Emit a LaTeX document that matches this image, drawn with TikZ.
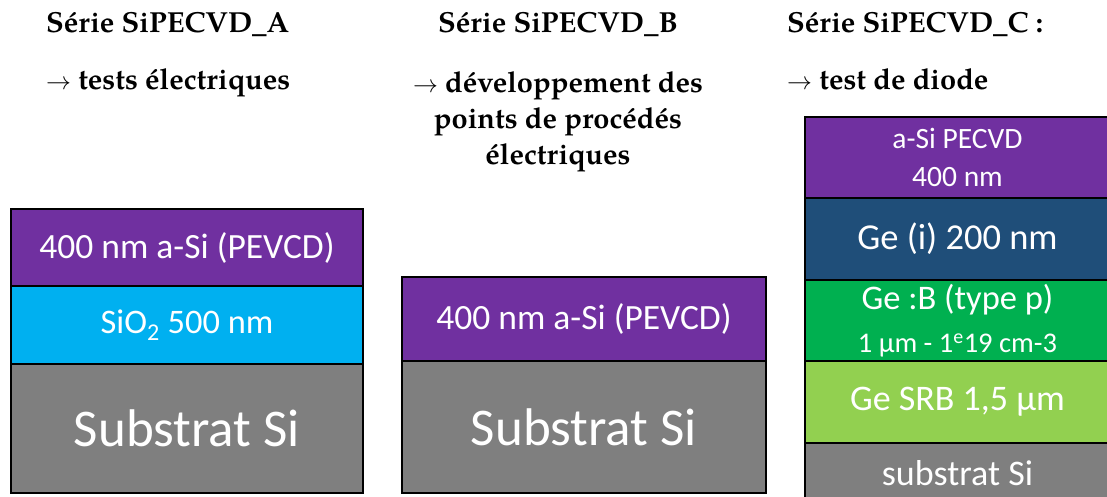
\documentclass[tikz,border=0pt]{standalone}
\usepackage{fontspec}
\setmainfont{Carlito}
\newfontfamily\titlefont{texgyrepagella}[Extension=.otf,UprightFont=*-regular,BoldFont=*-bold]
\usetikzlibrary{positioning}

\definecolor{asi}{HTML}{7030A0}
\definecolor{oxide}{HTML}{00B0F0}
\definecolor{subst}{HTML}{7F7F7F}
\definecolor{geint}{HTML}{1F4E79}
\definecolor{gep}{HTML}{00B050}
\definecolor{gesrb}{HTML}{92D050}

\begin{document}
\begin{tikzpicture}[x=1pt,y=-1pt,node distance=0pt,
  layer/.style={draw,line width=1.5pt,fill=#1,text=white,inner sep=0pt,outer sep=0pt,align=center},
  stackA/.style={minimum width=352pt},
  stackB/.style={minimum width=364pt},
  stackC/.style={minimum width=305pt},
  title/.style={font=\titlefont\bfseries\fontsize{29}{36}\selectfont,inner sep=0pt},
  fs/.style={font=\fontsize{#1}{38}\selectfont}]
\useasboundingbox[fill=white] (0,0) rectangle (1107,497);

% serie A
\node[title,anchor=base west] (titleA) at (46,33) {Série SiPECVD\_A};
\node[title,anchor=base west] (goalA) at (46,90) {$\rightarrow$ tests électriques};
\node[layer=asi,stackA,fs=35.5,minimum height=77pt,anchor=north west] (asiA) at (11,209) {400 nm a-Si (PEVCD)};
\node[layer=oxide,stackA,fs=34.4,minimum height=78pt,below=of asiA] (oxA) {SiO\textsubscript{2} 500 nm};
\node[layer=subst,stackA,fs=53,minimum height=129pt,below=of oxA] (subA) {Substrat Si};

% serie B
\node[title,anchor=base] (titleB) at (558,33) {Série SiPECVD\_B};
\node[title,align=center,anchor=north] (goalB) at (558,71) {$\rightarrow$ développement des\\points de procédés\\électriques};
\node[layer=asi,stackB,fs=35.5,minimum height=84pt,anchor=north west] (asiB) at (402,277) {400 nm a-Si (PEVCD)};
\node[layer=subst,stackB,fs=53,minimum height=132pt,below=of asiB] (subB) {Substrat Si};

% serie C
\node[title,anchor=base west] (titleC) at (787,33) {Série SiPECVD\_C :};
\node[title,anchor=base west] (goalC) at (787,90) {$\rightarrow$ test de diode};
\node[layer=asi,stackC,fs=29.5,minimum height=81pt,anchor=north west] (asiC) at (805,117) {a-Si PECVD\\400 nm};
\node[layer=geint,stackC,fs=36.5,minimum height=82pt,below=of asiC] (geiC) {Ge (i) 200 nm};
\node[layer=gep,stackC,minimum height=81pt,below=of geiC,font=\fontsize{28.5}{43}\selectfont] (gepC) {{\fontsize{34.5}{43}\selectfont Ge :B (type p)}\\1 µm - 1\textsuperscript{e}19 cm-3};
\node[layer=gesrb,stackC,fs=36,minimum height=82pt,below=of gepC] (srbC) {Ge SRB 1,5 µm};
\node[layer=subst,stackC,fs=36,minimum height=60pt,below=of srbC] (subC) {substrat Si};
\end{tikzpicture}
\end{document}
